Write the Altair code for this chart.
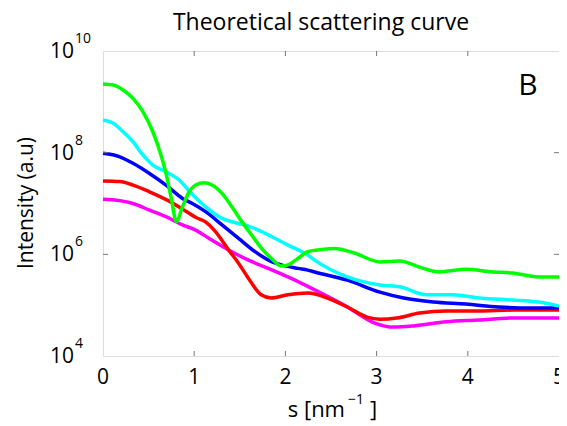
import altair as alt
import pandas as pd

# ---- data (s in nm^-1, intensity in a.u.) ----
s_green = [0.0, 0.112, 0.220, 0.329, 0.437, 0.546, 0.618, 0.691, 0.745, 0.806, 0.871, 0.944,
           1.016, 1.106, 1.196, 1.305, 1.413, 1.522, 1.630, 1.739, 1.847, 1.955, 2.028, 2.137,
           2.245, 2.400, 2.538, 2.755, 3.037, 3.254, 3.471, 3.688, 3.980, 4.273, 4.490, 4.772, 5.0]
I_green = [2.24e9, 2.14e9, 1.71e9, 1.17e9, 6.4e8, 2.58e8, 1.13e8, 3.9e7, 1.36e7, 4.4e6, 8.6e6, 1.7e7,
           2.31e7, 2.56e7, 2.31e7, 1.58e7, 8.6e6, 4.4e6, 2.4e6, 1.31e6, 8.3e5, 5.9e5, 6.2e5, 8.3e5,
           1.13e6, 1.25e6, 1.3e6, 1.06e6, 7.1e5, 7.4e5, 5.6e5, 4.5e5, 5.1e5, 4.5e5, 4.3e5, 3.6e5, 3.6e5]

s_cyan = [0.0, 0.112, 0.220, 0.329, 0.437, 0.546, 0.691, 0.835, 0.960, 1.125, 1.305, 1.450,
          1.594, 1.739, 1.884, 2.028, 2.245, 2.321, 2.679, 3.037, 3.254, 3.547, 3.839, 4.121,
          4.490, 4.772, 5.0]
I_cyan = [4.4e8, 3.8e8, 2.58e8, 1.64e8, 9.0e7, 5.7e7, 4.2e7, 2.9e7, 1.65e7, 8.6e6, 5.1e6, 4.2e6,
          3.6e6, 2.8e6, 2.07e6, 1.52e6, 9.7e5, 7.7e5, 3.6e5, 2.5e5, 2.3e5, 1.6e5, 1.6e5, 1.38e5,
          1.26e5, 1.15e5, 9.6e4]

s_blue = [0.0, 0.184, 0.329, 0.510, 0.691, 0.871, 0.980, 1.125, 1.305, 1.486, 1.667, 1.847,
          1.955, 2.137, 2.245, 2.321, 2.679, 3.037, 3.297, 3.623, 3.980, 4.338, 4.707, 5.0]
I_blue = [9.7e7, 8.3e7, 6.2e7, 3.9e7, 2.3e7, 1.26e7, 1.0e7, 6.9e6, 3.8e6, 2.07e6, 1.13e6, 7.2e5,
          6.2e5, 5.3e5, 4.9e5, 4.5e5, 3.1e5, 1.8e5, 1.38e5, 1.15e5, 1.05e5, 9.2e4, 8.8e4, 8.8e4]

s_red = [0.0, 0.184, 0.329, 0.510, 0.710, 0.870, 1.020, 1.120, 1.233, 1.377, 1.486, 1.594,
         1.735, 1.844, 2.028, 2.245, 2.462, 2.679, 2.896, 3.037, 3.221, 3.471, 3.764, 4.121,
         4.490, 5.0]
I_red = [2.77e7, 2.7e7, 2.3e7, 1.7e7, 1.15e7, 7.8e6, 5.3e6, 4.4e6, 2.8e6, 1.22e6, 6.7e5, 3.4e5,
         1.6e5, 1.38e5, 1.6e5, 1.73e5, 1.38e5, 9.2e4, 5.8e4, 5.3e4, 5.6e4, 7.0e4, 7.7e4, 7.7e4,
         8.0e4, 8.0e4]

s_magenta = [0.0, 0.184, 0.329, 0.510, 0.691, 0.871, 1.016, 1.160, 1.377, 1.594, 1.811, 2.028,
             2.321, 2.679, 2.972, 3.189, 3.406, 3.764, 4.121, 4.490, 5.0]
I_magenta = [1.21e7, 1.14e7, 1.0e7, 7.4e6, 5.5e6, 3.8e6, 3.0e6, 2.07e6, 1.22e6, 7.7e5, 5.3e5, 3.6e5,
             2.0e5, 9.2e4, 4.5e4, 3.7e4, 3.9e4, 4.7e4, 5.1e4, 5.6e4, 5.6e4]

x_ticks = [0, 1, 2, 3, 4, 5]
y_ticks = [1e4, 1e6, 1e8, 1e10]
y_exps = ["4", "6", "8", "10"]

series = [
    ("magenta", s_magenta, I_magenta, "#ff00ff"),
    ("red", s_red, I_red, "#ff0000"),
    ("blue", s_blue, I_blue, "#0000ff"),
    ("cyan", s_cyan, I_cyan, "#00ffff"),
    ("green", s_green, I_green, "#00ff00"),
]

W, H = 456, 305
FONT = "Open Sans"
AXC = "#777777"

xs = alt.Scale(domain=[0, 5], nice=False, zero=False)
ys = alt.Scale(type="log", domain=[1e4, 1e10], nice=False)

layers = []
for name, sv, iv, col in series:
    df = pd.DataFrame({"s": sv, "I": iv})
    layers.append(
        alt.Chart(df).mark_line(color=col, strokeWidth=3.5, interpolate="monotone").encode(
            x=alt.X("s:Q", scale=xs, axis=None),
            y=alt.Y("I:Q", scale=ys, axis=None),
        )
    )

xt_inner = pd.DataFrame({"s": x_ticks[1:-1]})
yt_inner = pd.DataFrame({"I": y_ticks[1:-1]})

# inward tick marks
layers.append(alt.Chart(xt_inner).mark_rule(color=AXC, strokeWidth=1).encode(
    x=alt.X("s:Q", scale=xs, axis=None), y=alt.value(H), y2=alt.value(H - 5)))
layers.append(alt.Chart(xt_inner).mark_rule(color=AXC, strokeWidth=1).encode(
    x=alt.X("s:Q", scale=xs, axis=None), y=alt.value(0), y2=alt.value(5)))
layers.append(alt.Chart(yt_inner).mark_rule(color=AXC, strokeWidth=1).encode(
    y=alt.Y("I:Q", scale=ys, axis=None), x=alt.value(0), x2=alt.value(5)))
layers.append(alt.Chart(yt_inner).mark_rule(color=AXC, strokeWidth=1).encode(
    y=alt.Y("I:Q", scale=ys, axis=None), x=alt.value(W), x2=alt.value(W - 5)))

# x tick labels
layers.append(alt.Chart(pd.DataFrame({"s": x_ticks})).mark_text(
    font=FONT, fontSize=21, baseline="alphabetic", align="center", dy=28, color="black").encode(
    x=alt.X("s:Q", scale=xs, axis=None), y=alt.value(H), text=alt.Text("s:Q", format="d")))

# y tick labels 10^n
ylab = pd.DataFrame({"I": y_ticks, "base": ["10"] * len(y_ticks), "exp": y_exps})
layers.append(alt.Chart(ylab).mark_text(
    font=FONT, fontSize=21, baseline="middle", align="left", dy=1, color="black").encode(
    y=alt.Y("I:Q", scale=ys, axis=None), x=alt.value(-53), text="base:N"))
layers.append(alt.Chart(ylab).mark_text(
    font=FONT, fontSize=14, baseline="middle", align="left", dy=-12, color="black").encode(
    y=alt.Y("I:Q", scale=ys, axis=None), x=alt.value(-28), text="exp:N"))

one = pd.DataFrame({"k": [0]})

def label(txt, x, y, size, align="center", baseline="alphabetic", angle=0):
    kw = dict(font=FONT, fontSize=size, align=align, baseline=baseline, color="black", text=txt)
    if angle:
        kw["angle"] = angle
    return alt.Chart(one).mark_text(**kw).encode(x=alt.value(x), y=alt.value(y))

layers.append(label("Theoretical scattering curve", 218, -21, 23))
layers.append(label("B", 425, 44, 30))
layers.append(label("Intensity (a.u)", -76, 152, 21, baseline="middle", angle=270))
layers.append(label("s [nm", 242, 366, 22, align="right"))
layers.append(label("\u22121", 245, 353, 14, align="left"))
layers.append(label("]", 267, 366, 22, align="left"))

chart = alt.layer(*layers).properties(
    width=W, height=H,
    autosize=alt.AutoSizeParams(type="none"),
    padding={"left": 95, "top": 43, "right": 0, "bottom": 70},
).configure_view(stroke=AXC, strokeWidth=1.2).configure(background="white")

chart.save("out.html", embed_options={"renderer": "svg", "actions": False})
